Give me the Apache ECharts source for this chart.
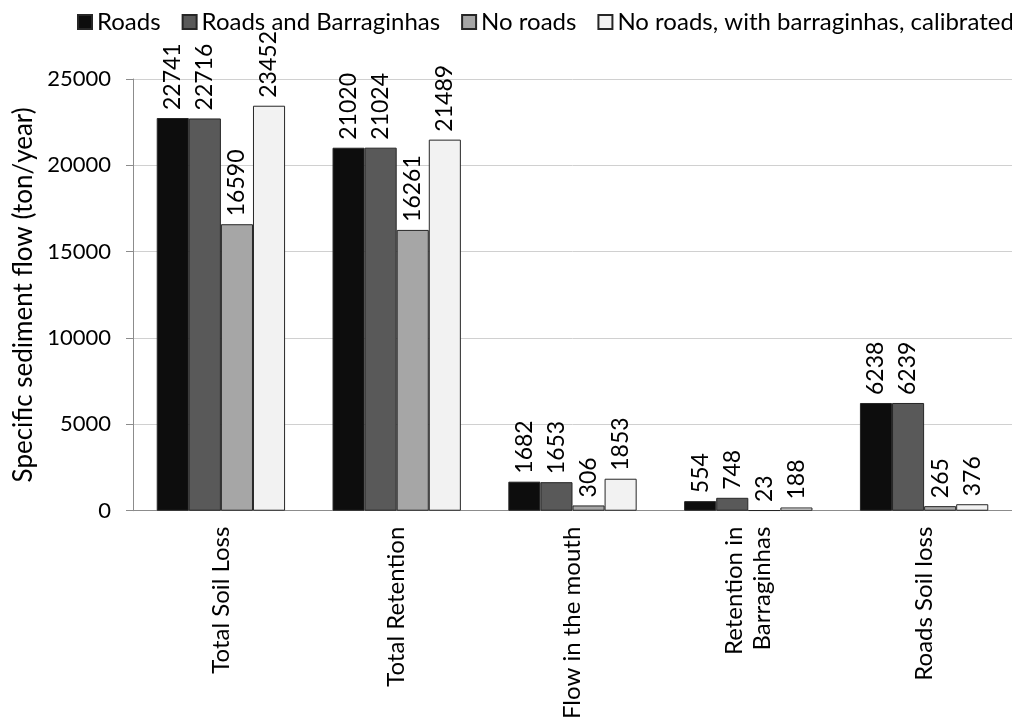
<!DOCTYPE html>
<html>
<head>
<meta charset="utf-8">
<script src="https://cdn.jsdelivr.net/npm/echarts@6/dist/echarts.min.js"></script>
<style>
  html, body { margin: 0; padding: 0; background: #fff; }
  #chart { width: 1012px; height: 722px; }
</style>
</head>
<body>
<div id="chart"></div>
<script>
// Specific sediment flow by scenario
const categories = ['Total Soil Loss', 'Total Retention', 'Flow in the mouth', 'Retention in\nBarraginhas', 'Roads Soil loss'];
const seriesNames = ['Roads', 'Roads and Barraginhas', 'No roads', 'No roads, with barraginhas, calibrated'];
const roads = [22741, 21020, 1682, 554, 6238];
const roadsAndBarraginhas = [22716, 21024, 1653, 748, 6239];
const noRoads = [16590, 16261, 306, 23, 265];
const noRoadsCalibrated = [23452, 21489, 1853, 188, 376];
const yTicks = { min: 0, max: 25000, interval: 5000 };

const colors = ['#0d0d0d', '#595959', '#a6a6a6', '#f2f2f2'];
const font = 'Lato, "Open Sans", sans-serif';
const values = [roads, roadsAndBarraginhas, noRoads, noRoadsCalibrated];

const chart = echarts.init(document.getElementById('chart'), null, { renderer: 'canvas' });
chart.setOption({
  animation: false,
  backgroundColor: '#ffffff',
  textStyle: { fontFamily: font, color: '#000' },
  legend: {
    left: 72, top: 5, width: 1000,
    itemWidth: 14, itemHeight: 14, itemGap: 21,
    icon: 'rect',
    textStyle: { fontFamily: font, fontSize: 24, color: '#000' },
    data: seriesNames
  },
  grid: { left: 133, top: 79, width: 890, height: 434, containLabel: false },
  xAxis: {
    type: 'category',
    data: categories,
    axisLine: { lineStyle: { color: '#8c8c8c', width: 1 } },
    axisTick: { length: 7, lineStyle: { color: '#8c8c8c' } },
    axisLabel: { rotate: 90, margin: 16, fontSize: 24, color: '#000', fontFamily: font, lineHeight: 28 }
  },
  yAxis: {
    type: 'value',
    min: yTicks.min, max: yTicks.max, interval: yTicks.interval,
    name: 'Specific sediment flow (ton/year)',
    nameLocation: 'middle',
    nameGap: 94,
    nameTextStyle: { fontSize: 26, color: '#000', fontFamily: font },
    axisLine: { show: true, lineStyle: { color: '#8c8c8c', width: 1 } },
    axisTick: { show: true, length: 7, lineStyle: { color: '#8c8c8c' } },
    axisLabel: { margin: 22, fontSize: 22, color: '#000', fontFamily: font, formatter: v => String(v) },
    splitLine: { lineStyle: { color: '#d0d0d0', width: 1 } }
  },
  series: seriesNames.map((name, i) => ({
    name,
    type: 'bar',
    data: values[i],
    barGap: '0%',
    barCategoryGap: '27%',
    itemStyle: { color: colors[i], borderColor: '#262626', borderWidth: 1 },
    label: {
      show: true,
      position: 'top',
      rotate: 90,
      align: 'left',
      verticalAlign: 'middle',
      distance: 8,
      fontSize: 23,
      color: '#000',
      fontFamily: font
    }
  }))
});
</script>
</body>
</html>
